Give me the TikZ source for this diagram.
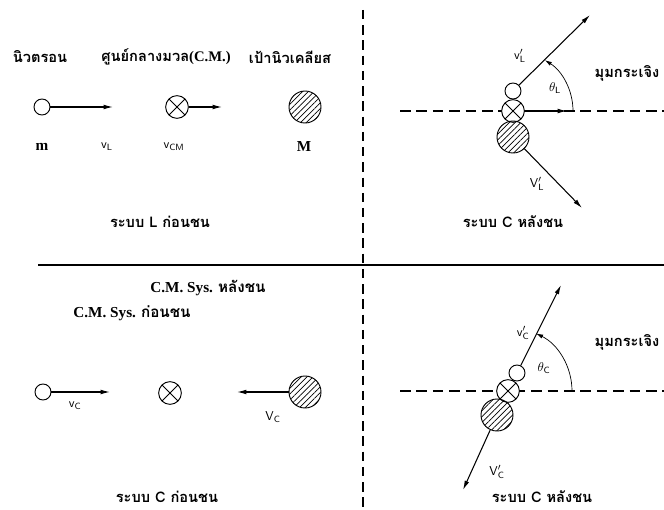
\documentclass[tikz,border=0pt]{standalone}
\usepackage{fontspec}
\setmainfont{Liberation Serif}
\newfontfamily\thaifont[Script=Thai]{Loma}
\usetikzlibrary{arrows.meta, patterns.meta, positioning}

\begin{document}
\begin{tikzpicture}[
  x=0.03cm, y=-0.03cm,
  font=\fontsize{12}{14}\selectfont,
  nucleon/.style={draw=black, circle, fill=white, line width=0.8pt, inner sep=0pt, minimum size=0.48cm},
  cmpoint/.style={draw=black, circle, fill=white, line width=0.8pt, inner sep=0pt, minimum size=0.68cm,
                  path picture={\draw[line width=0.8pt] (path picture bounding box.north west) -- (path picture bounding box.south east)
                                (path picture bounding box.north east) -- (path picture bounding box.south west);}},
  target/.style={draw=black, circle, line width=0.8pt, inner sep=0pt, minimum size=0.96cm,
                 pattern={Lines[angle=45, distance=3.5pt, line width=0.6pt]}},
  vecarrow/.style={draw=black, line width=0.9pt, -{Latex[length=8pt,width=4pt]}},
  scatarc/.style={draw=black, line width=0.6pt, -{Latex[length=6pt,width=3.5pt]}},
  axisline/.style={draw=black, line width=0.9pt, dash pattern=on 9pt off 5pt},
  thaitxt/.style={font=\fontsize{12.5}{14}\selectfont\thaifont\bfseries},
  lbl/.style={font=\fontsize{11}{13}\selectfont}
]
\useasboundingbox (0,0) rectangle (664,510);

% เส้นแบ่ง
\draw[axisline, dash pattern=on 8pt off 5pt] (363,10) -- (363,508);
\draw[line width=1pt] (38,265) -- (664,265);

% ระบบ L ก่อนชน
\node[thaitxt] (hdN) at (40,57)  {นิวตรอน};
\node[font=\fontsize{12.5}{14}\selectfont\bfseries, inner sep=0pt] (hdC) at (166,57) {{\thaifont ศูนย์กลางมวล}(C.M.)};
\node[thaitxt] (hdT) at (290,57) {เป้านิวเคลียส};

\node[nucleon] (nL) at (42,107) {};
\node[cmpoint] (cL) at (177,107) {};
\node[target]  (tL) at (305,107) {};
\coordinate (vLend) at (113,107);
\coordinate (vCMend) at (222,107);
\draw[vecarrow] (nL) -- (vLend);
\draw[vecarrow] (cL) -- (vCMend);

\node[font=\fontsize{13}{15}\selectfont\bfseries] (mL) at (42,147) {m};
\node[lbl] (vLl) at (107,147) {$\mathsf{v}_{\mathsf{L}}$};
\node[lbl] (vCMl) at (174,147) {$\mathsf{v}_{\mathsf{CM}}$};
\node[font=\fontsize{13}{15}\selectfont\bfseries] (ML) at (304,147) {M};
\node[thaitxt] (capTL) at (160,222) {ระบบ L ก่อนชน};

% ระบบ C หลังชน (บน)
\draw[axisline] (400,111) -- (664,111);
\node[cmpoint] (cTR) at (513,111) {};
\node[nucleon] (nTR) at (513,91) {};
\node[target]  (tTR) at (513,137) {};
\coordinate (vpLend) at (590,15);
\coordinate (VpLend) at (582,208);
\coordinate (vTRend) at (567,111);
\draw[vecarrow] (nTR) -- (vpLend);
\draw[vecarrow] (tTR) -- (VpLend);
\draw[vecarrow] (cTR) -- (vTRend);
\draw[scatarc] (573,111) arc[start angle=0, end angle=-58, radius=60];

\node[lbl] (vpLl) at (520,56) {$\mathsf{v}'_{\mathsf{L}}$};
\node[lbl] (thL) at (555,88) {$\theta_{\mathsf{L}}$};
\node[lbl] (VpLl) at (537,184) {$\mathsf{V}'_{\mathsf{L}}$};
\node[thaitxt] (angTR) at (627,73) {มุมกระเจิง};
\node[thaitxt] (capTR) at (513,222) {ระบบ C หลังชน};

% ระบบ C ก่อนชน
\node[font=\fontsize{13}{15}\selectfont\bfseries] (sysA) at (208,288) {C.M. Sys. {\thaifont หลังชน}};
\node[font=\fontsize{13}{15}\selectfont\bfseries] (sysB) at (132,313) {C.M. Sys. {\thaifont ก่อนชน}};

\node[nucleon] (nBL) at (43,392) {};
\node[cmpoint] (cBL) at (170,393) {};
\node[target]  (tBL) at (305,392) {};
\coordinate (vCend) at (110,392);
\coordinate (VCend) at (237,392);
\draw[vecarrow] (nBL) -- (vCend);
\draw[vecarrow] (tBL) -- (VCend);

\node[lbl] (vCl) at (75,406) {$\mathsf{v}_{\mathsf{C}}$};
\node[lbl] (VCl) at (273,417) {$\mathsf{V}_{\mathsf{C}}$};
\node[thaitxt] (capBL) at (167,497) {ระบบ C ก่อนชน};

% ระบบ C หลังชน (ล่าง)
\draw[axisline] (400,391) -- (664,391);
\node[cmpoint] (cBR) at (508,391) {};
\node[nucleon] (nBR) at (517,373) {};
\node[target]  (tBR) at (497,415) {};
\coordinate (vpCend) at (561,285);
\coordinate (VpCend) at (463,490);
\draw[vecarrow] (nBR) -- (vpCend);
\draw[vecarrow] (tBR) -- (VpCend);
\draw[scatarc] (572,391) arc[start angle=0, end angle=-64, radius=64];

\node[lbl] (vpCl) at (523,333) {$\mathsf{v}'_{\mathsf{C}}$};
\node[lbl] (thC) at (544,368) {$\theta_{\mathsf{C}}$};
\node[lbl] (VpCl) at (497,472) {$\mathsf{V}'_{\mathsf{C}}$};
\node[thaitxt] (angBR) at (627,342) {มุมกระเจิง};
\node[thaitxt] (capBR) at (542,497) {ระบบ C หลังชน};

\end{tikzpicture}
\end{document}
